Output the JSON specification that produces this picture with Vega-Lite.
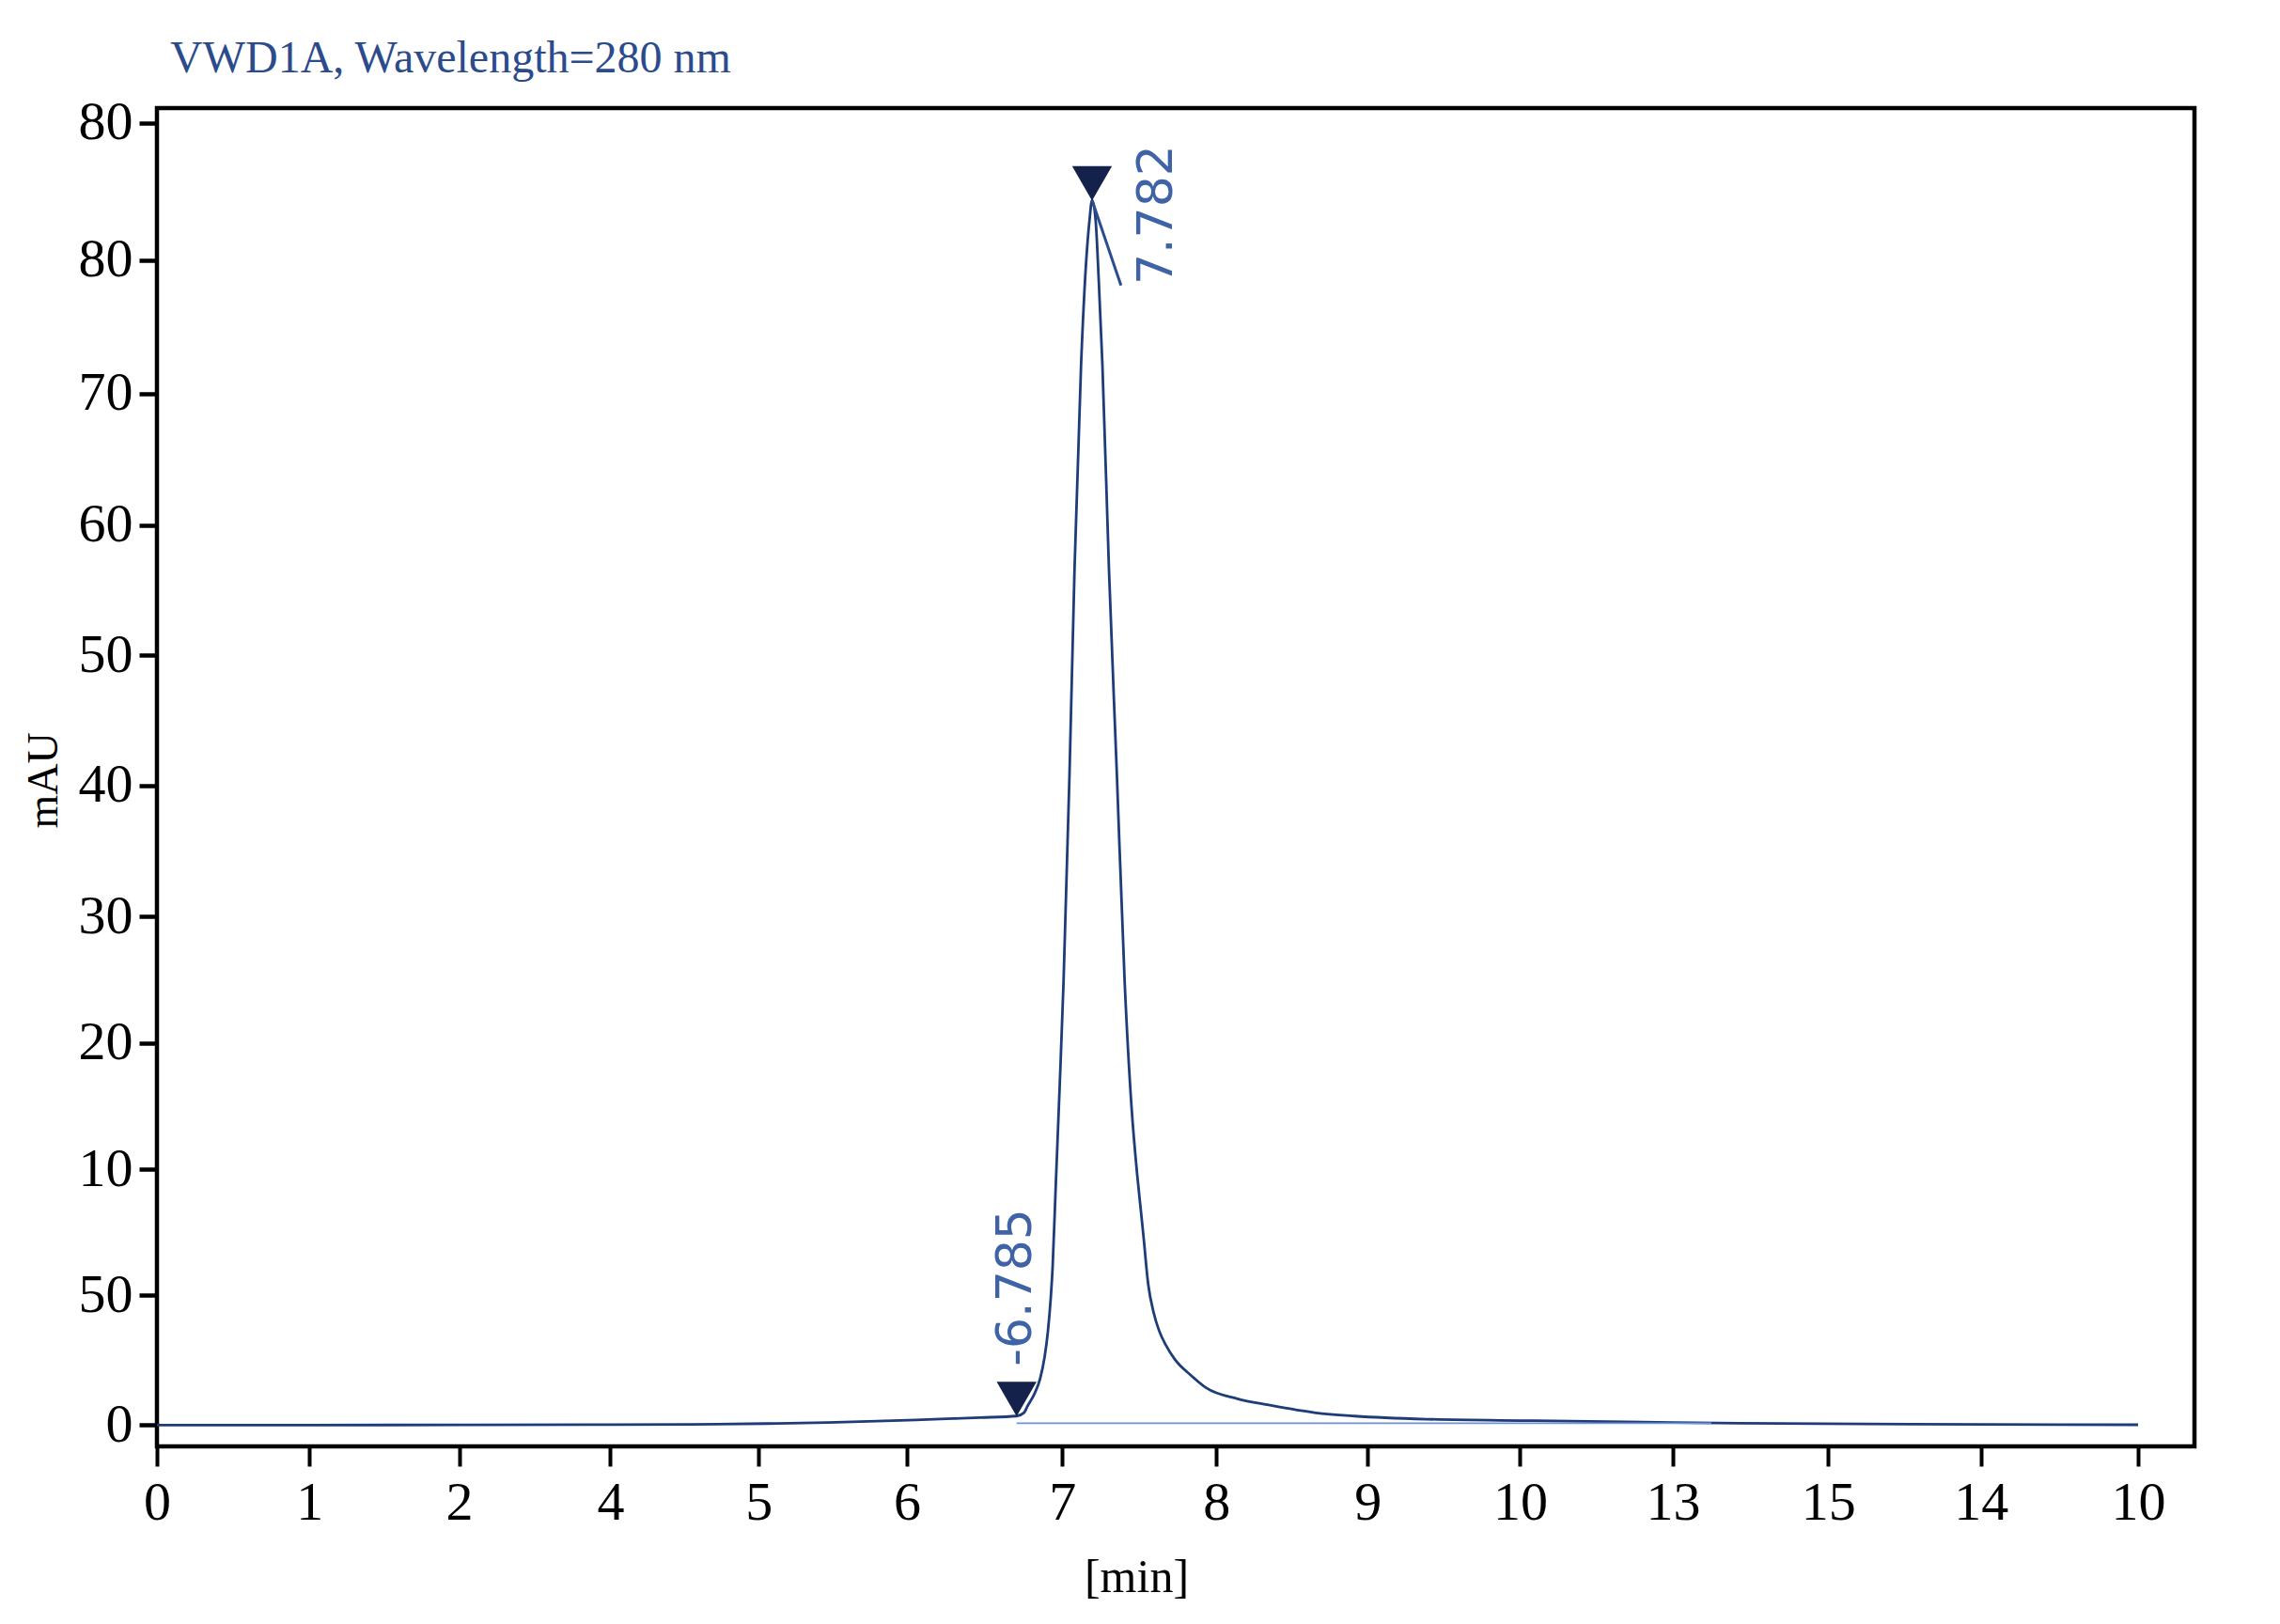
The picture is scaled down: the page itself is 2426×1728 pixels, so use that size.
{
  "$schema": "https://vega.github.io/schema/vega-lite/v6.json",
  "autosize": "none",
  "padding": {"left": 167, "top": 115, "right": 91, "bottom": 189},
  "width": 2168,
  "height": 1424,
  "background": "white",
  "title": {
    "text": "VWD1A, Wavelength=280 nm",
    "anchor": "start",
    "frame": "group",
    "dx": 14,
    "dy": 58,
    "offset": 35,
    "baseline": "alphabetic",
    "font": "Liberation Serif",
    "fontSize": 48,
    "fontWeight": "normal",
    "color": "#2c4b8c"
  },
  "config": {
    "view": {"stroke": "black", "strokeWidth": 4.5},
    "axis": {
      "domain": false,
      "grid": false,
      "labelFlush": false,
      "tickColor": "black",
      "labelColor": "black",
      "labelFont": "Liberation Serif",
      "labelFontSize": 58,
      "titleFont": "Liberation Serif",
      "titleFontWeight": "normal",
      "titleColor": "black"
    }
  },
  "datasets": {
    "trace": [
      {"t": 0, "h": 0.05}, {"t": 1, "h": 0.05}, {"t": 2, "h": 0.06}, {"t": 3, "h": 0.08},
      {"t": 3.5, "h": 0.1}, {"t": 4.0, "h": 0.16}, {"t": 4.4, "h": 0.24}, {"t": 4.83, "h": 0.38},
      {"t": 5.1, "h": 0.5}, {"t": 5.4, "h": 0.62}, {"t": 5.641, "h": 0.74}, {"t": 5.69, "h": 1.0},
      {"t": 5.711, "h": 1.47}, {"t": 5.76, "h": 2.5}, {"t": 5.795, "h": 3.6}, {"t": 5.825, "h": 5.3},
      {"t": 5.846, "h": 7.2}, {"t": 5.865, "h": 9.8}, {"t": 5.877, "h": 12.1}, {"t": 5.898, "h": 18.5},
      {"t": 5.925, "h": 26.5}, {"t": 5.949, "h": 34.1}, {"t": 5.988, "h": 50}, {"t": 6.021, "h": 65.8},
      {"t": 6.064, "h": 81.5}, {"t": 6.095, "h": 89}, {"t": 6.12, "h": 92.7}, {"t": 6.136, "h": 94.15},
      {"t": 6.159, "h": 92.7}, {"t": 6.18, "h": 88}, {"t": 6.204, "h": 81.5}, {"t": 6.247, "h": 65.8},
      {"t": 6.299, "h": 50}, {"t": 6.35, "h": 34.1}, {"t": 6.395, "h": 24.5}, {"t": 6.432, "h": 19.3},
      {"t": 6.453, "h": 16.9}, {"t": 6.474, "h": 14.5}, {"t": 6.504, "h": 10.9}, {"t": 6.54, "h": 8.7},
      {"t": 6.576, "h": 7.3}, {"t": 6.62, "h": 6.2}, {"t": 6.679, "h": 5.1}, {"t": 6.782, "h": 3.9},
      {"t": 6.884, "h": 2.91}, {"t": 7.09, "h": 2.07}, {"t": 7.295, "h": 1.59}, {"t": 7.604, "h": 0.99},
      {"t": 7.858, "h": 0.74}, {"t": 8.33, "h": 0.5}, {"t": 9.04, "h": 0.38}, {"t": 9.746, "h": 0.27},
      {"t": 10.38, "h": 0.19}, {"t": 11.2, "h": 0.13}, {"t": 12.0, "h": 0.1}, {"t": 13.0, "h": 0.07}
    ],
    "baseline": [
      {"t": 5.641, "h": 0.19}, {"t": 10.2, "h": 0.19}
    ],
    "tangent": [
      {"t": 6.136, "h": 94.15}, {"t": 6.326, "h": 87.6}
    ],
    "peaks": [
      {"t": 6.136, "h": 94.15, "label": "7.782"},
      {"t": 5.641, "h": 0.74, "label": "-6.785"}
    ]
  },
  "encoding": {
    "x": {
      "field": "t",
      "type": "quantitative",
      "scale": {"domain": [0, 13.37], "nice": false, "zero": false},
      "axis": {
        "values": [0, 1, 1.983, 2.975, 3.948, 4.921, 5.941, 6.952, 7.944, 8.945, 9.947, 10.967, 11.969, 13],
        "labelExpr": "['0','1','2','4','5','6','7','8','9','10','13','15','14','10'][round(datum.value)]",
        "tickSize": 21,
        "tickWidth": 4,
        "labelPadding": 10,
        "title": "[min]",
        "titleFontSize": 50,
        "titleX": 1042,
        "titleY": 154,
        "titleAlign": "center",
        "titleBaseline": "alphabetic"
      }
    },
    "y": {
      "field": "h",
      "type": "quantitative",
      "scale": {"domain": [-1.59, 101.23], "nice": false, "zero": false},
      "axis": {
        "values": [0.07, 10.0, 19.7, 29.4, 39.1, 49.2, 59.2, 69.2, 79.3, 89.55, 100.1],
        "labelExpr": "['0','50','10','20','30','40','50','60','70','80','80'][round(datum.value / 10)]",
        "tickSize": 19,
        "tickWidth": 4.5,
        "labelPadding": 7,
        "title": "mAU",
        "titleFontSize": 46,
        "titleAngle": 270,
        "titleX": -121,
        "titleY": 715,
        "titleAlign": "center",
        "titleBaseline": "middle"
      }
    }
  },
  "layer": [
    {
      "data": {"name": "trace"},
      "mark": {"type": "line", "color": "#1d3c78", "strokeWidth": 2.8, "interpolate": "monotone"},
      "encoding": {}
    },
    {
      "data": {"name": "baseline"},
      "mark": {"type": "line", "color": "#6f92d6", "strokeWidth": 1.6},
      "encoding": {}
    },
    {
      "data": {"name": "tangent"},
      "mark": {"type": "line", "color": "#2a4d92", "strokeWidth": 3},
      "encoding": {}
    },
    {
      "data": {"name": "peaks"},
      "mark": {"type": "point", "shape": "triangle-down", "filled": true, "size": 1800, "color": "#14214a", "opacity": 1, "yOffset": -18}
    },
    {
      "data": {"name": "peaks"},
      "transform": [{"filter": "datum.label == '7.782'"}],
      "mark": {"type": "text", "angle": 270, "align": "left", "baseline": "alphabetic", "font": "DejaVu Sans", "fontSize": 52, "color": "#3e63a6", "dx": -90, "dy": 85},
      "encoding": {"text": {"field": "label"}}
    },
    {
      "data": {"name": "peaks"},
      "transform": [{"filter": "datum.label == '-6.785'"}],
      "mark": {"type": "text", "angle": 270, "align": "left", "baseline": "alphabetic", "font": "DejaVu Sans", "fontSize": 52, "color": "#3e63a6", "dx": 53, "dy": 15},
      "encoding": {"text": {"field": "label"}}
    }
  ]
}
